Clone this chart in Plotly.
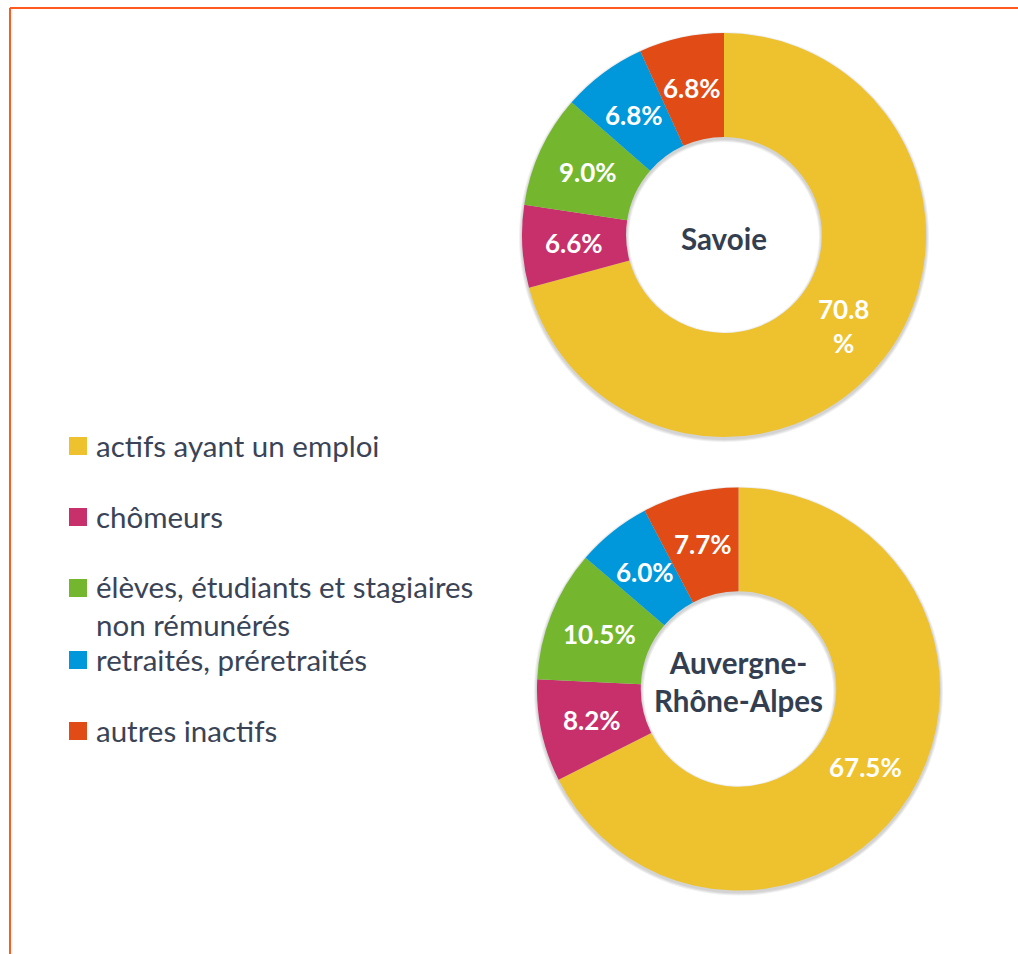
import math
import plotly.graph_objects as go

# ---- data ----
categories = [
    "actifs ayant un emploi",
    "chômeurs",
    "élèves, étudiants et stagiaires<br>non rémunérés",
    "retraités, préretraités",
    "autres inactifs",
]
savoie = [70.8, 6.6, 9.0, 6.8, 6.8]
ara = [67.5, 8.2, 10.5, 6.0, 7.7]
region_names = ["Savoie", "Auvergne-<br>Rhône-Alpes"]
colors = ["#EEC22E", "#C8306C", "#74B72F", "#0098DA", "#E04B16"]

W, H = 1018, 954
FONT = "Lato"
TEXT_DARK = "#333F50"
HOLE = 0.485


def px(x):
    return x / W


def py(y):
    return 1 - y / H


def dom(cx, cy, r):
    return dict(x=[px(cx - r), px(cx + r)], y=[py(cy + r), py(cy - r)])


def pct_labels(vals, wrap_first=False):
    out = [f"{v:.1f}%" for v in vals]
    if wrap_first:
        out[0] = out[0].replace("%", "<br>%")
    return out


fig = go.Figure()

# (values, center x, center y, radius, wrap first label, label center)
pies = [
    (savoie, 724, 235, 202, True, (724, 238)),
    (ara, 738.5, 689, 201.5, False, (738, 681)),
]

# soft drop shadows (decorative rings under each donut)
for vals, cx, cy, r, wrap, center in pies:
    ri = r * HOLE
    for k in (1, 2, 3):
        rr = r + k
        fig.add_trace(go.Pie(
            values=[1], labels=[""], textinfo="none", hoverinfo="skip",
            marker=dict(colors=["rgba(0,0,0,0.06)"], line=dict(width=0)),
            hole=(ri - k) / rr, sort=False, showlegend=False,
            domain=dom(cx, cy + 2, rr),
        ))

for i, (vals, cx, cy, r, wrap, center) in enumerate(pies):
    fig.add_trace(go.Pie(
        labels=categories,
        values=vals,
        textinfo="none",
        marker=dict(colors=colors, line=dict(width=0)),
        hole=HOLE,
        sort=False,
        direction="clockwise",
        rotation=0,
        domain=dom(cx, cy, r),
        showlegend=False,
        hoverinfo="label+value",
    ))
    # slice labels at the middle of each ring segment (angles from the values)
    total = sum(vals)
    rm = r * (1 + HOLE) / 2
    cum = 0.0
    for v, t in zip(vals, pct_labels(vals, wrap)):
        theta = 2 * math.pi * (cum + v / 2) / total
        cum += v
        fig.add_annotation(
            x=px(cx + rm * math.sin(theta)), y=py(cy - rm * math.cos(theta)),
            xref="paper", yref="paper", text=f"<b>{t}</b>", showarrow=False,
            font=dict(family=FONT, size=26, color="white"),
            xanchor="center", yanchor="middle", align="center",
        )
    fig.add_annotation(
        x=px(center[0]), y=py(center[1]), xref="paper", yref="paper",
        text=f"<b>{region_names[i]}</b>", showarrow=False,
        font=dict(family=FONT, size=29.5, color=TEXT_DARK),
        xanchor="center", yanchor="middle", align="center",
    )

# ---- manual legend (squares + labels) ----
legend_y = [446, 517, 588, 660, 731]
line_h = 37
shapes = []
for cat, col, ly in zip(categories, colors, legend_y):
    shapes.append(dict(
        type="rect", xref="paper", yref="paper",
        x0=px(69), x1=px(87), y0=py(ly + 9), y1=py(ly - 9),
        fillcolor=col, line=dict(width=0),
    ))
    nlines = cat.count("<br>") + 1
    fig.add_annotation(
        x=px(94), y=py(ly - 1 + (nlines - 1) * line_h / 2), xref="paper", yref="paper",
        text=cat, showarrow=False, align="left",
        font=dict(family=FONT, size=29.5, color="#3A4456"),
        xanchor="left", yanchor="middle",
    )

# orange frame lines
shapes.append(dict(type="line", xref="paper", yref="paper",
                   x0=px(10), x1=1, y0=py(8), y1=py(8),
                   line=dict(color="#FF5A1F", width=2)))
shapes.append(dict(type="line", xref="paper", yref="paper",
                   x0=px(10), x1=px(10), y0=py(8), y1=0,
                   line=dict(color="#FF5A1F", width=2)))

fig.update_layout(
    width=W, height=H,
    margin=dict(l=0, r=0, t=0, b=0),
    paper_bgcolor="white", plot_bgcolor="white",
    shapes=shapes,
    font=dict(family=FONT),
)

fig.write_html("out.html", config={"displayModeBar": False},
               post_script="document.body.style.margin='0';")
